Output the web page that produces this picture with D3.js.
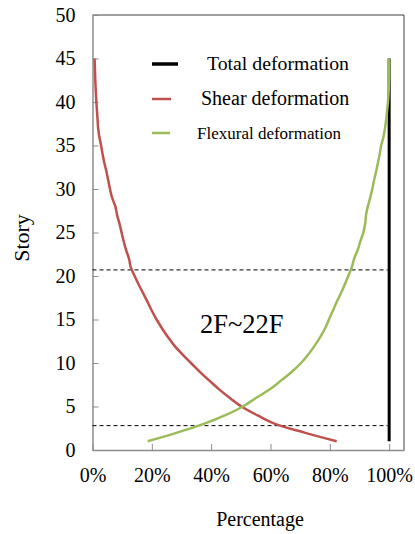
<!DOCTYPE html>
<html>
<head>
<meta charset="utf-8">
<script src="https://cdn.jsdelivr.net/npm/d3@7"></script>
<style>
    body { margin: 0; background: #fff; }
    svg text { font-family: "Liberation Serif", "Times New Roman", serif; fill: #000; }
</style>
</head>
<body>
<div id="chart"></div>
<script>
// story levels, 1F ~ 45F
const stories = d3.range(1, 46);

// share of shear deformation in total deformation (%)
const shear = [
    82.3, 71.5, 61.5, 55.5, 50.2, 46.2, 42.6, 39.3, 36.1, 33.2,
    30.3, 27.6, 25.4, 23.4, 21.6, 20.0, 18.6, 17.1, 15.6, 14.2,
    12.9, 12.3, 11.3, 10.5, 9.8, 9.1, 8.3, 7.7, 6.6, 5.9,
    5.3, 4.7, 4.0, 3.4, 2.9, 2.3, 1.9, 1.7, 1.5, 1.3,
    1.15, 1.0, 0.9, 0.8, 0.7
];

// share of flexural deformation (%)
const flexural = [
    18.6, 28.5, 37.5, 44.8, 50.7, 55.2, 59.9, 63.6, 67.2, 70.3,
    72.8, 74.9, 76.8, 78.4, 79.7, 81.0, 82.3, 83.7, 85.0, 86.2,
    87.4, 88.2, 89.4, 90.3, 91.3, 91.9, 92.2, 92.8, 93.6, 94.3,
    94.9, 95.6, 96.2, 96.8, 97.3, 98.1, 98.6, 99.0, 99.3, 99.6,
    99.8, 99.9, 100, 100, 100
];

// total deformation (%)
const total = stories.map(() => 100);

// marked range 2F ~ 22F
const bandStories = [2.8, 20.7];

const xTicks = [0, 20, 40, 60, 80, 100];
const yTicks = [0, 5, 10, 15, 20, 25, 30, 35, 40, 45, 50];

const legendKeys = ['Total deformation', 'Shear deformation', 'Flexural deformation'];

const black = '#000000';
const red = '#C0504D';
const green = '#9BBB59';
const axisGrey = '#8C8C8C';

const width = 415;
const height = 534;

const xScale = d3.scaleLinear().domain([0, 105]).range([92.5, 404]);
const yScale = d3.scaleLinear().domain([0, 50]).range([450, 15]);

const svg = d3.select('#chart')
    .append('svg')
    .attr('width', width)
    .attr('height', height);

// top and right border of the plot area
svg.append('path')
    .attr('d', `M${xScale(0)},${yScale(50)}H${xScale(105)}V${yScale(0)}`)
    .attr('fill', 'none')
    .attr('stroke', '#404040')
    .attr('stroke-width', 1);

// axes
const xAxis = svg.append('g')
    .attr('transform', `translate(0, ${yScale(0)})`)
    .call(d3.axisBottom(xScale)
        .tickValues(xTicks)
        .tickFormat(d => d + '%')
        .tickSizeInner(-6)
        .tickSizeOuter(0)
        .tickPadding(18));

const yAxis = svg.append('g')
    .attr('transform', `translate(${xScale(0)}, 0)`)
    .call(d3.axisLeft(yScale)
        .tickValues(yTicks)
        .tickSizeInner(-6)
        .tickSizeOuter(0)
        .tickPadding(17));

[xAxis, yAxis].forEach(g => {
    g.attr('font-family', null);
    g.select('.domain').attr('stroke', axisGrey).attr('stroke-width', 1.5);
    g.selectAll('.tick line').attr('stroke', axisGrey).attr('stroke-width', 1);
    g.selectAll('.tick text')
        .style('font-size', '20px')
        .attr('fill', '#000');
});

// dashed guide lines
svg.selectAll('.guide')
    .data(bandStories)
    .enter()
    .append('line')
    .attr('class', 'guide')
    .attr('x1', xScale(0))
    .attr('x2', xScale(99.5))
    .attr('y1', d => yScale(d))
    .attr('y2', d => yScale(d))
    .attr('stroke', black)
    .attr('stroke-width', 1)
    .attr('stroke-dasharray', '4 3');

const line = values => d3.line()
    .x((d, i) => xScale(values[i]))
    .y(d => yScale(d))
    .curve(d3.curveCatmullRom)(stories);

svg.append('path')
    .attr('d', line(total))
    .attr('fill', 'none')
    .attr('stroke', black)
    .attr('stroke-width', 3);

svg.append('path')
    .attr('d', line(shear))
    .attr('fill', 'none')
    .attr('stroke', red)
    .attr('stroke-width', 2.5);

svg.append('path')
    .attr('d', line(flexural))
    .attr('fill', 'none')
    .attr('stroke', green)
    .attr('stroke-width', 2.5);

// legend
const legendColors = [black, red, green];
const legendY = [64, 99, 133];
const legendLen = [26, 19, 18];
const legendTextX = [207, 201, 197];
const legendSize = [19.8, 20, 17];

svg.selectAll('.legendLine')
    .data(legendKeys)
    .enter()
    .append('line')
    .attr('x1', 152)
    .attr('x2', (_, i) => 152 + legendLen[i])
    .attr('y1', (_, i) => legendY[i])
    .attr('y2', (_, i) => legendY[i])
    .attr('stroke', (_, i) => legendColors[i])
    .attr('stroke-width', (_, i) => i === 0 ? 3.5 : 2.5);

svg.selectAll('.legendLabel')
    .data(legendKeys)
    .enter()
    .append('text')
    .attr('x', (_, i) => legendTextX[i])
    .attr('y', (_, i) => legendY[i] + 6)
    .style('font-size', (_, i) => legendSize[i] + 'px')
    .text(d => d);

// annotation
svg.append('text')
    .attr('x', 200)
    .attr('y', 333)
    .style('font-size', '26.5px')
    .text('2F~22F');

// axis titles
svg.append('text')
    .attr('x', 260)
    .attr('y', 526)
    .attr('text-anchor', 'middle')
    .style('font-size', '20px')
    .text('Percentage');

svg.append('text')
    .attr('transform', 'translate(29, 238) rotate(-90)')
    .attr('text-anchor', 'middle')
    .style('font-size', '22px')
    .text('Story');
</script>
</body>
</html>
